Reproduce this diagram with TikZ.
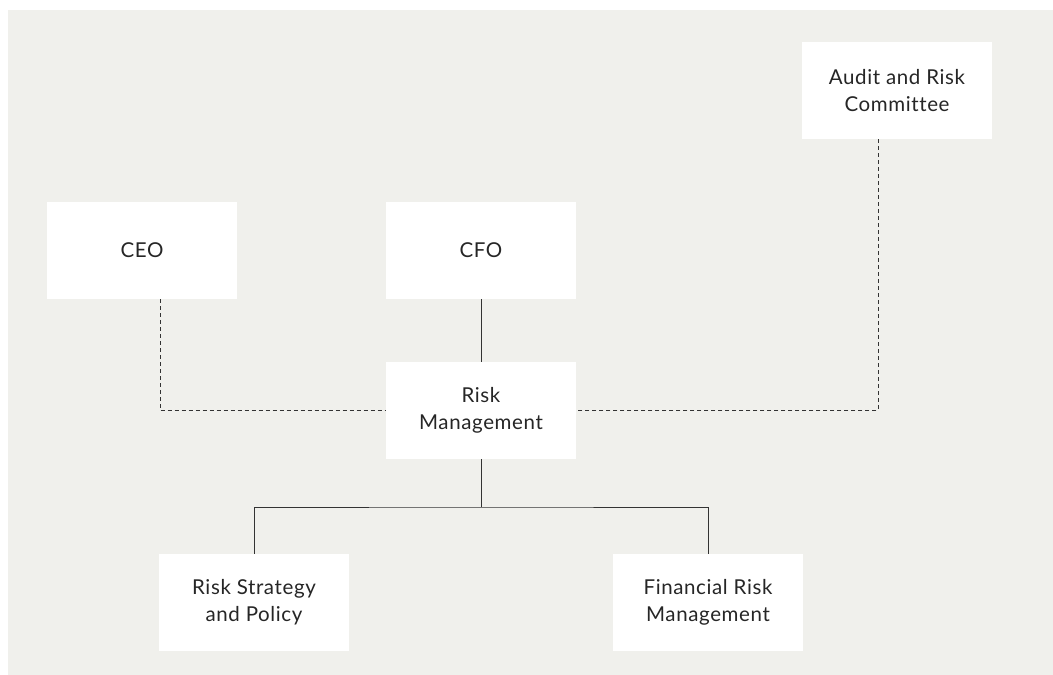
\documentclass[tikz,border=0pt]{standalone}
\usepackage{fontspec}
\setmainfont{Lato}[LetterSpace=3,Ligatures={NoCommon}]
\definecolor{panel}{HTML}{F0F0EC}
\definecolor{ink}{HTML}{262626}
\definecolor{wire}{HTML}{333333}
\begin{document}
\begin{tikzpicture}[x=1pt,y=-1pt,
  box/.style={fill=white,draw=none,minimum width=190pt,minimum height=97pt,
    align=center,inner sep=0pt,text=ink,font=\fontsize{20.5}{27}\selectfont},
  solidwire/.style={draw=wire,line width=1pt},
  dashwire/.style={draw=wire,line width=1pt,dash pattern=on 4pt off 3pt}]
\useasboundingbox (0,0) rectangle (1053,675);
\fill[panel] (8,10) rectangle (1053,675);
\node[box] (CEO) at (142,250.5) {CEO};
\node[box] (CFO) at (481,250.5) {CFO};
\node[box] (RM) at (481,410.5) {Risk\\Management};
\node[box] (ARC) at (897,90.5) {Audit and Risk\\Committee};
\node[box] (RSP) at (254,602.5) {Risk Strategy\\and Policy};
\node[box] (FRM) at (708,602.5) {Financial Risk\\Management};
\coordinate (ceox) at (160,0);
\coordinate (arcx) at (878,0);
\coordinate (bus) at (481,507);
\draw[solidwire] (CFO.south) -- (RM.north);
\draw[solidwire] (RM.south) -- (bus);
\draw[solidwire] (RSP.north) |- (bus) -| (FRM.north);
\draw[dashwire] (CEO.south -| ceox) |- (RM.west);
\draw[dashwire] (ARC.south -| arcx) |- (RM.east);
\end{tikzpicture}
\end{document}
